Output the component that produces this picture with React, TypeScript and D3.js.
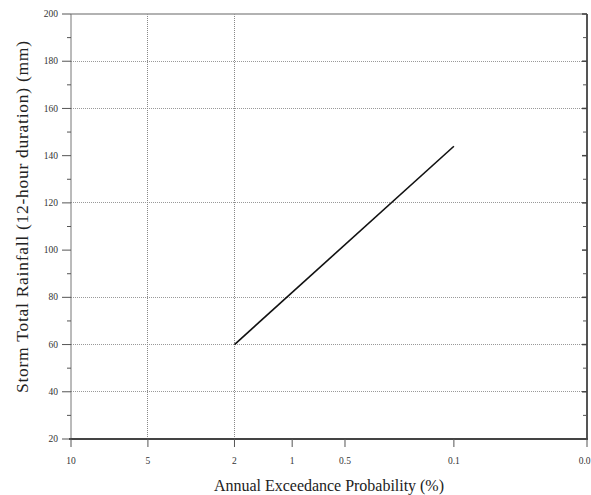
import React from "react";
import * as d3 from "d3";

const xTickProbs = [10, 5, 2, 1, 0.5, 0.1, 0.01];
const xTickLabels = ["10", "5", "2", "1", "0.5", "0.1", "0.01"];
const xGridProbs = [5, 2];
const yTicks = [20, 40, 60, 80, 100, 120, 140, 160, 180, 200];
const yMinorTicks = [30, 50, 70, 90, 110, 130, 150, 170, 190];
const yGridValues = [40, 60, 80, 120, 160, 180];
const seriesProbs = [2, 0.1];
const seriesValues = [60, 144];

// inverse standard normal CDF (Acklam)
function normInv(p: number): number {
  const a = [-3.969683028665376e1, 2.209460984245205e2, -2.759285104469687e2, 1.38357751867269e2, -3.066479806614716e1, 2.506628277459239];
  const b = [-5.447609879822406e1, 1.615858368580409e2, -1.556989798598866e2, 6.680131188771972e1, -1.328068155288572e1];
  const c = [-7.784894002430293e-3, -3.223964580411365e-1, -2.400758277161838, -2.549732539343734, 4.374664141464968, 2.938163982698783];
  const d = [7.784695709041462e-3, 3.224671290700398e-1, 2.445134137142996, 3.754408661907416];
  const pl = 0.02425;
  let q: number, r: number;
  if (p < pl) {
    q = Math.sqrt(-2 * Math.log(p));
    return (((((c[0] * q + c[1]) * q + c[2]) * q + c[3]) * q + c[4]) * q + c[5]) / ((((d[0] * q + d[1]) * q + d[2]) * q + d[3]) * q + 1);
  } else if (p <= 1 - pl) {
    q = p - 0.5;
    r = q * q;
    return ((((((a[0] * r + a[1]) * r + a[2]) * r + a[3]) * r + a[4]) * r + a[5]) * q) / (((((b[0] * r + b[1]) * r + b[2]) * r + b[3]) * r + b[4]) * r + 1);
  } else {
    q = Math.sqrt(-2 * Math.log(1 - p));
    return -(((((c[0] * q + c[1]) * q + c[2]) * q + c[3]) * q + c[4]) * q + c[5]) / ((((d[0] * q + d[1]) * q + d[2]) * q + d[3]) * q + 1);
  }
}
const zOf = (pct: number) => -normInv(pct / 100);

const L = 71, R = 587, T = 14, B = 439;

export default function App() {
  const zx = d3.scaleLinear().domain([zOf(10), zOf(0.01)]).range([L, R]);
  const x = (pct: number) => zx(zOf(pct));
  const y = d3.scaleLinear().domain([20, 200]).range([B, T]);
  const line = d3.line<number>().x((_, i) => x(seriesProbs[i])).y((v) => y(v));
  const font = "'Liberation Serif', 'Times New Roman', serif";

  return (
    <svg width={591} height={495} style={{ position: "absolute", left: 0, top: 0, background: "#fff" }} fontFamily={font}>
      {/* grid */}
      {yGridValues.map((v) => (
        <line key={"gy" + v} x1={L} x2={R} y1={y(v)} y2={y(v)} stroke="#999" strokeWidth={1} strokeDasharray="1,1" shapeRendering="crispEdges" />
      ))}
      {xGridProbs.map((p) => (
        <line key={"gx" + p} x1={x(p)} x2={x(p)} y1={T} y2={B} stroke="#888" strokeWidth={1} strokeDasharray="1,1" shapeRendering="crispEdges" />
      ))}
      {/* frame */}
      <line x1={L} x2={R} y1={T} y2={T} stroke="#999" strokeWidth={1.5} />
      <line x1={L} x2={L} y1={T} y2={B} stroke="#777" strokeWidth={1} />
      <line x1={R} x2={R} y1={T} y2={B} stroke="#555" strokeWidth={2} />
      <line x1={L - 2} x2={R + 1} y1={B} y2={B} stroke="#444" strokeWidth={2} />
      {/* y ticks */}
      {yTicks.map((v) => (
        <g key={"yt" + v}>
          <line x1={L - 9} x2={L} y1={y(v)} y2={y(v)} stroke="#555" strokeWidth={1} />
          <line x1={R - 5} x2={R} y1={y(v)} y2={y(v)} stroke="#444" strokeWidth={1.5} />
          <text x={L - 13} y={y(v)} dy="0.33em" textAnchor="end" fontSize={9.5} fill="#333">{v}</text>
        </g>
      ))}
      {yMinorTicks.map((v) => (
        <g key={"ym" + v}>
          <line x1={L - 4} x2={L} y1={y(v)} y2={y(v)} stroke="#555" strokeWidth={1} />
          <line x1={R - 4} x2={R} y1={y(v)} y2={y(v)} stroke="#555" strokeWidth={1} />
        </g>
      ))}
      {/* x ticks */}
      {xTickProbs.map((p, i) => (
        <g key={"xt" + p}>
          <line x1={x(p)} x2={x(p)} y1={B} y2={B + 8} stroke="#555" strokeWidth={1} />
          <text x={x(p)} y={B + 25} textAnchor="middle" fontSize={9.5} fill="#333">{xTickLabels[i]}</text>
        </g>
      ))}
      {/* series */}
      <path d={line(seriesValues) || ""} fill="none" stroke="#111" strokeWidth={1.6} />
      {/* titles */}
      <text x={329} y={491} textAnchor="middle" fontSize={16} fill="#222" textLength={230} lengthAdjust="spacing">Annual Exceedance Probability (%)</text>
      <text transform="translate(28,217) rotate(-90)" textAnchor="middle" fontSize={17.5} fill="#222" textLength={352} lengthAdjust="spacing">Storm Total Rainfall (12-hour duration) (mm)</text>
    </svg>
  );
}
